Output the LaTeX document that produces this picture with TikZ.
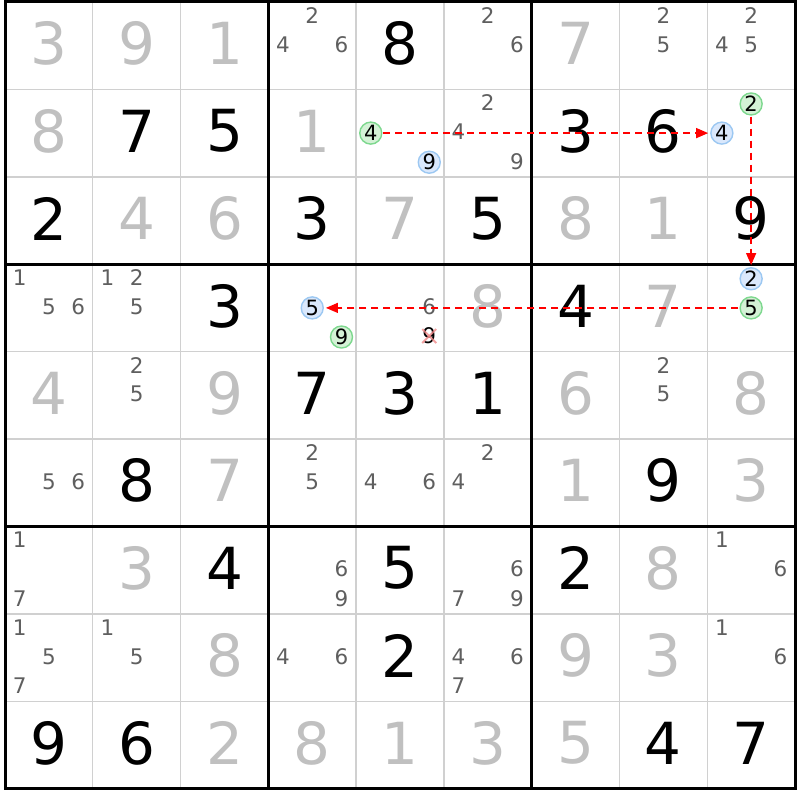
\documentclass[tikz,border=0pt]{standalone}
\usepackage{fontspec}
\setmainfont{DejaVu Sans}
\usetikzlibrary{arrows.meta}
\definecolor{solved}{HTML}{C0C0C0}
\definecolor{cand}{HTML}{5F5F5F}
\definecolor{thin}{HTML}{D0D0D0}
\definecolor{gfill}{HTML}{D4F2D6}
\definecolor{gline}{HTML}{7DD88E}
\definecolor{bfill}{HTML}{DAE8FC}
\definecolor{bline}{HTML}{9CC8F2}
\definecolor{xred}{HTML}{F08A8A}
\tikzset{
  bigdig/.style={font=\fontsize{58}{58}\selectfont, inner sep=0pt, yshift=2pt},
  givendig/.style={bigdig, text=black},
  solveddig/.style={bigdig, text=solved},
  smalldig/.style={font=\fontsize{21.5}{21.5}\selectfont, inner sep=0pt},
  candig/.style={smalldig, text=cand, yshift=1pt},
  hlgreen/.style={circle, draw=gline, fill=gfill, line width=1.4pt, minimum size=22pt, inner sep=0pt, font=\fontsize{21}{21}\selectfont, text=black},
  hlblue/.style={circle, draw=bline, fill=bfill, line width=1.4pt, minimum size=22pt, inner sep=0pt, font=\fontsize{21}{21}\selectfont, text=black},
  thinline/.style={draw=thin, line width=1.4pt},
  thickline/.style={draw=black, line width=3pt, line cap=rect},
  linkarrow/.style={draw=red, line width=1.3pt, dash pattern=on 7pt off 5pt, shorten >=2pt, shorten <=1pt, -{Triangle[length=12pt,width=10pt]}},
  xmark/.style={draw=xred, line width=2pt, opacity=0.8},
}
\begin{document}
\begin{tikzpicture}[x=1pt,y=-1pt]
\useasboundingbox (0,0) rectangle (800,800);
\fill[white] (0,0) rectangle (800,800);
% thin grid lines
\foreach \i in {1,2,4,5,7,8}{
  \draw[thinline] ({5+87.78*\i},2) -- ({5+87.78*\i},788.6);
  \draw[thinline] (5,{2+87.4*\i}) -- (795,{2+87.4*\i});
}
% thick block lines
\foreach \i in {0,3,6,9}{
  \draw[thickline] ({5+87.78*\i},2) -- ({5+87.78*\i},788.6);
  \draw[thickline] (5,{2+87.4*\i}) -- (795,{2+87.4*\i});
}
% given digits
\foreach \r/\c/\v in {0/4/8,1/1/7,1/2/5,1/6/3,1/7/6,2/0/2,2/3/3,2/5/5,2/8/9,3/2/3,3/6/4,4/3/7,4/4/3,4/5/1,5/1/8,5/7/9,6/2/4,6/4/5,6/6/2,7/4/2,8/0/9,8/1/6,8/7/4,8/8/7}{
  \node[givendig] (g-\r-\c) at ({5+87.78*(\c+0.5)},{2+87.4*(\r+0.5)}) {\v};
}
% solved digits
\foreach \r/\c/\v in {0/0/3,0/1/9,0/2/1,0/6/7,1/0/8,1/3/1,2/1/4,2/2/6,2/4/7,2/6/8,2/7/1,3/5/8,3/7/7,4/0/4,4/2/9,4/6/6,4/8/8,5/2/7,5/6/1,5/8/3,6/1/3,6/7/8,7/2/8,7/6/9,7/7/3,8/2/2,8/3/8,8/4/1,8/5/3,8/6/5}{
  \node[solveddig] (s-\r-\c) at ({5+87.78*(\c+0.5)},{2+87.4*(\r+0.5)}) {\v};
}
% candidates
\foreach \r/\c/\n in {0/3/2,0/3/4,0/3/6,0/5/2,0/5/6,0/7/2,0/7/5,0/8/2,0/8/4,0/8/5,
  1/5/2,1/5/4,1/5/9,
  3/0/1,3/0/5,3/0/6,3/1/1,3/1/2,3/1/5,3/4/6,
  4/1/2,4/1/5,4/7/2,4/7/5,
  5/0/5,5/0/6,5/3/2,5/3/5,5/4/4,5/4/6,5/5/2,5/5/4,
  6/0/1,6/0/7,6/3/6,6/3/9,6/5/6,6/5/7,6/5/9,6/8/1,6/8/6,
  7/0/1,7/0/5,7/0/7,7/1/1,7/1/5,7/3/4,7/3/6,7/5/4,7/5/6,7/5/7,7/8/1,7/8/6}{
  \pgfmathtruncatemacro\sc{mod(\n-1,3)}
  \pgfmathtruncatemacro\sr{int((\n-1)/3)}
  \node[candig] (k-\r-\c-\n) at ({5+87.78*\c+29.26*(\sc+0.5)},{2+87.4*\r+29.13*(\sr+0.5)}) {\n};
}
% eliminated candidate
\node[smalldig, text=black, yshift=1pt] (k-3-4-9) at ({5+87.78*4+29.26*2.5},{2+87.4*3+29.13*2.5}) {9};
\draw[xmark] (k-3-4-9.center) +(-7,-7) -- +(7,7);
\draw[xmark] (k-3-4-9.center) +(-7,7) -- +(7,-7);
% highlighted candidates
\foreach \r/\c/\n/\st in {1/4/4/hlgreen,1/4/9/hlblue,1/8/2/hlgreen,1/8/4/hlblue,3/3/9/hlgreen,3/3/5/hlblue,3/8/5/hlgreen,3/8/2/hlblue}{
  \pgfmathtruncatemacro\sc{mod(\n-1,3)}
  \pgfmathtruncatemacro\sr{int((\n-1)/3)}
  \node[\st] (k-\r-\c-\n) at ({5+87.78*\c+29.26*(\sc+0.5)},{2+87.4*\r+29.13*(\sr+0.5)}) {\n};
}
% chain links
\draw[linkarrow] (k-1-4-4) -- (k-1-8-4);
\draw[linkarrow] (k-1-8-2) -- (k-3-8-2);
\draw[linkarrow] (k-3-8-5) -- (k-3-3-5);
\end{tikzpicture}
\end{document}
